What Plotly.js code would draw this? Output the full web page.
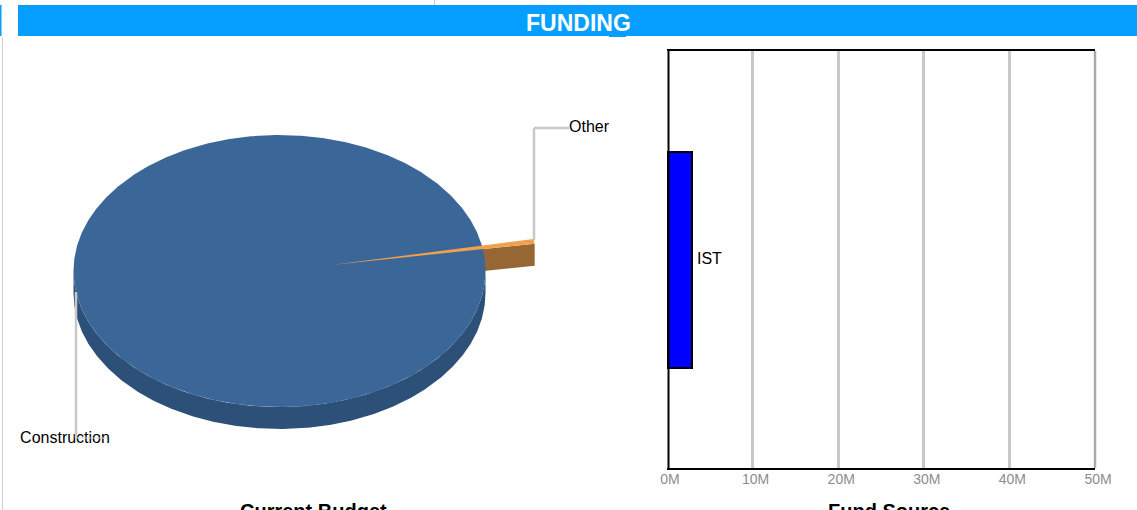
<!DOCTYPE html>
<html>
<head>
<meta charset="utf-8">
<script src="https://cdn.plot.ly/plotly-3.0.1.min.js"></script>
<style>html,body{margin:0;padding:0;background:#fff;overflow:hidden}#chart{width:1137px;height:510px}</style>
</head>
<body>
<div id="chart"></div>
<script>
// ---- data ----
var budgetLabels = ["Construction", "Other"];
var budgetValues = [99.45, 0.55];
var fundCategories = ["IST"];
var fundValues = [2900000];
var fundTickVals = [0, 10000000, 20000000, 30000000, 40000000, 50000000];
var fundTickText = ["0M", "10M", "20M", "30M", "40M", "50M"];

// ---- layout constants ----
var W = 1137, H = 510;
var FONT = '"Liberation Sans", Arial, sans-serif';
var PIE = {cx: 279.5, cy: 271, rx: 206, ry: 136, depth: 22, explode: 0.255, midDeg: 10};
var COL = {top: "#3b6698", side: "#2d5079", sliceTop: "#f0a04e", sliceSide: "#966633",
           banner: "#069fff", leader: "#c8c8c8", grid: "#c8c8c8", tick: "#8c8c8c"};

function fx(px) { return px / W; }
function fy(py) { return 1 - py / H; }
// pie axes are in units of the pie radius
function ux(px) { return (px - PIE.cx) / PIE.rx; }
function uy(py) { return (PIE.cy - py) / PIE.ry; }
var d = PIE.depth / PIE.ry;

function arc(a0, a1, dy, n) {
  var xs = [], ys = [];
  for (var i = 0; i <= n; i++) {
    var t = (a0 + (a1 - a0) * i / n) * Math.PI / 180;
    xs.push(Math.cos(t)); ys.push(Math.sin(t) - dy);
  }
  return {x: xs, y: ys};
}
function poly(name, xs, ys, color, lw) {
  return {type: "scatter", mode: "lines", name: name, x: xs, y: ys, xaxis: "x", yaxis: "y",
          fill: "toself", fillcolor: color, line: {color: color, width: lw},
          hoverinfo: "name", showlegend: false};
}

// Other: exploded slice whose angular width comes from its share
var total = budgetValues[0] + budgetValues[1];
var sweep = budgetValues[1] / total * 360;
var a0 = PIE.midDeg - sweep / 2, a1 = PIE.midDeg + sweep / 2;
var ox = PIE.explode * Math.cos(PIE.midDeg * Math.PI / 180);
var oy = PIE.explode * Math.sin(PIE.midDeg * Math.PI / 180);
var rimTop = arc(a0, a1, 0, 4);
var rimX = rimTop.x[0] + ox, rimY = rimTop.y[0] + oy;

var wallOut = arc(180, 360, d, 360), wallIn = arc(360, 180, 0, 360);
var discArc = arc(0, 360, 0, 720);
var traces = [
  // radial face of the exploded slice, partly hidden by the disc
  poly(budgetLabels[1], [ox, rimX, rimX, ox], [oy, rimY, rimY - d, oy - d], COL.sliceSide, 0),
  // Construction: side wall on the lower half, then the disc
  poly(budgetLabels[0], wallOut.x.concat(wallIn.x), wallOut.y.concat(wallIn.y), COL.side, 0),
  poly(budgetLabels[0], discArc.x, discArc.y, COL.top, 0),
  // top of the exploded slice
  poly(budgetLabels[1],
    [ox].concat(rimTop.x.map(function (v) { return v + ox; })).concat([ox]),
    [oy].concat(rimTop.y.map(function (v) { return v + oy; })).concat([oy]), COL.sliceTop, 0)
];

// pie labels
traces.push({type: "scatter", mode: "text", x: [ux(65), ux(589)], y: [uy(439), uy(128)],
  text: budgetLabels, textposition: "middle center", xaxis: "x", yaxis: "y",
  textfont: {family: FONT, size: 16, color: "#000"}, hoverinfo: "skip", showlegend: false, cliponaxis: false});

// funding bar
traces.push({type: "bar", orientation: "h", x: fundValues, y: fundCategories, width: 0.518,
  xaxis: "x2", yaxis: "y2", marker: {color: "#0000ff", line: {color: "#000", width: 2}},
  cliponaxis: true, hoverinfo: "x+y", showlegend: false});

function rect(x0, y0, x1, y1, color) {
  return {type: "rect", xref: "paper", yref: "paper", x0: fx(x0), x1: fx(x1), y0: fy(y0), y1: fy(y1),
          fillcolor: color, line: {width: 0}, layer: "below"};
}
function seg(x0, y0, x1, y1, color, w) {
  return {type: "line", xref: "paper", yref: "paper", x0: fx(x0), x1: fx(x1), y0: fy(y0), y1: fy(y1),
          line: {color: color, width: w}, layer: "above"};
}

var layout = {
  width: W, height: H, margin: {l: 0, r: 0, t: 0, b: 0},
  paper_bgcolor: "#fff", plot_bgcolor: "rgba(0,0,0,0)", showlegend: false, bargap: 0,
  font: {family: FONT},
  xaxis: {domain: [0, fx(640)], range: [ux(0), ux(640)], visible: false, fixedrange: true},
  yaxis: {domain: [0, 1], range: [uy(H), uy(0)], visible: false, fixedrange: true},
  xaxis2: {domain: [fx(667), fx(1095)], range: [0, 50000000], anchor: "y2", fixedrange: true,
    tickmode: "array", tickvals: fundTickVals, ticktext: fundTickText,
    tickfont: {family: FONT, size: 14, color: COL.tick}, ticks: "", ticklabelshift: 3, ticklabelstandoff: -3,
    showgrid: true, gridcolor: COL.grid, gridwidth: 2.5, zeroline: false,
    showline: true, linecolor: "#000", linewidth: 2, mirror: true},
  yaxis2: {domain: [fy(468), fy(51)], range: [-0.5, 0.5], anchor: "x2", type: "category", fixedrange: true,
    showticklabels: false, ticks: "", showgrid: false, zeroline: false, showline: false},
  shapes: [
    rect(18, 5, W, 36, COL.banner),
    rect(0, 5, 1.5, 36, COL.banner),
    rect(609, 36, 626, 37, COL.banner),
    rect(434, 0, 435, 5, "#cccccc"),
    rect(2, 37, 3, H, "#cccccc"),
    seg(668.5, 49, 668.5, 470, "#000", 2),
    seg(1095, 51, 1095, 468, "#aaaaaa", 2.5),
    seg(534, 128, 569, 128, COL.leader, 2.5),
    seg(534, 128, 534, 240, COL.leader, 2.5),
    seg(76, 292, 76, 438, COL.leader, 2.5),
    seg(76, 438, 107, 438, "#d4d4d4", 1)
  ],
  annotations: [
    {text: "<b>FUNDING</b>", xref: "paper", yref: "paper", x: fx(578.5), y: fy(23), xanchor: "center", yanchor: "middle",
     showarrow: false, font: {family: FONT, size: 23, color: "#fff"}},
    {text: "<b>Current Budget</b>", xref: "paper", yref: "paper", x: fx(313), y: fy(510.5), xanchor: "center", yanchor: "middle",
     showarrow: false, font: {family: FONT, size: 20, color: "#000"}},
    {text: "<b>Fund Source</b>", xref: "paper", yref: "paper", x: fx(888.5), y: fy(510.5), xanchor: "center", yanchor: "middle",
     showarrow: false, font: {family: FONT, size: 20, color: "#000"}},
    {text: fundCategories[0], xref: "x2", yref: "y2", x: fundValues[0], y: fundCategories[0], xanchor: "left", yanchor: "middle",
     xshift: 3, yshift: 1.5, showarrow: false, font: {family: FONT, size: 16, color: "#000"}}
  ]
};
Plotly.newPlot("chart", traces, layout, {displayModeBar: false, responsive: false});
</script>
</body>
</html>
